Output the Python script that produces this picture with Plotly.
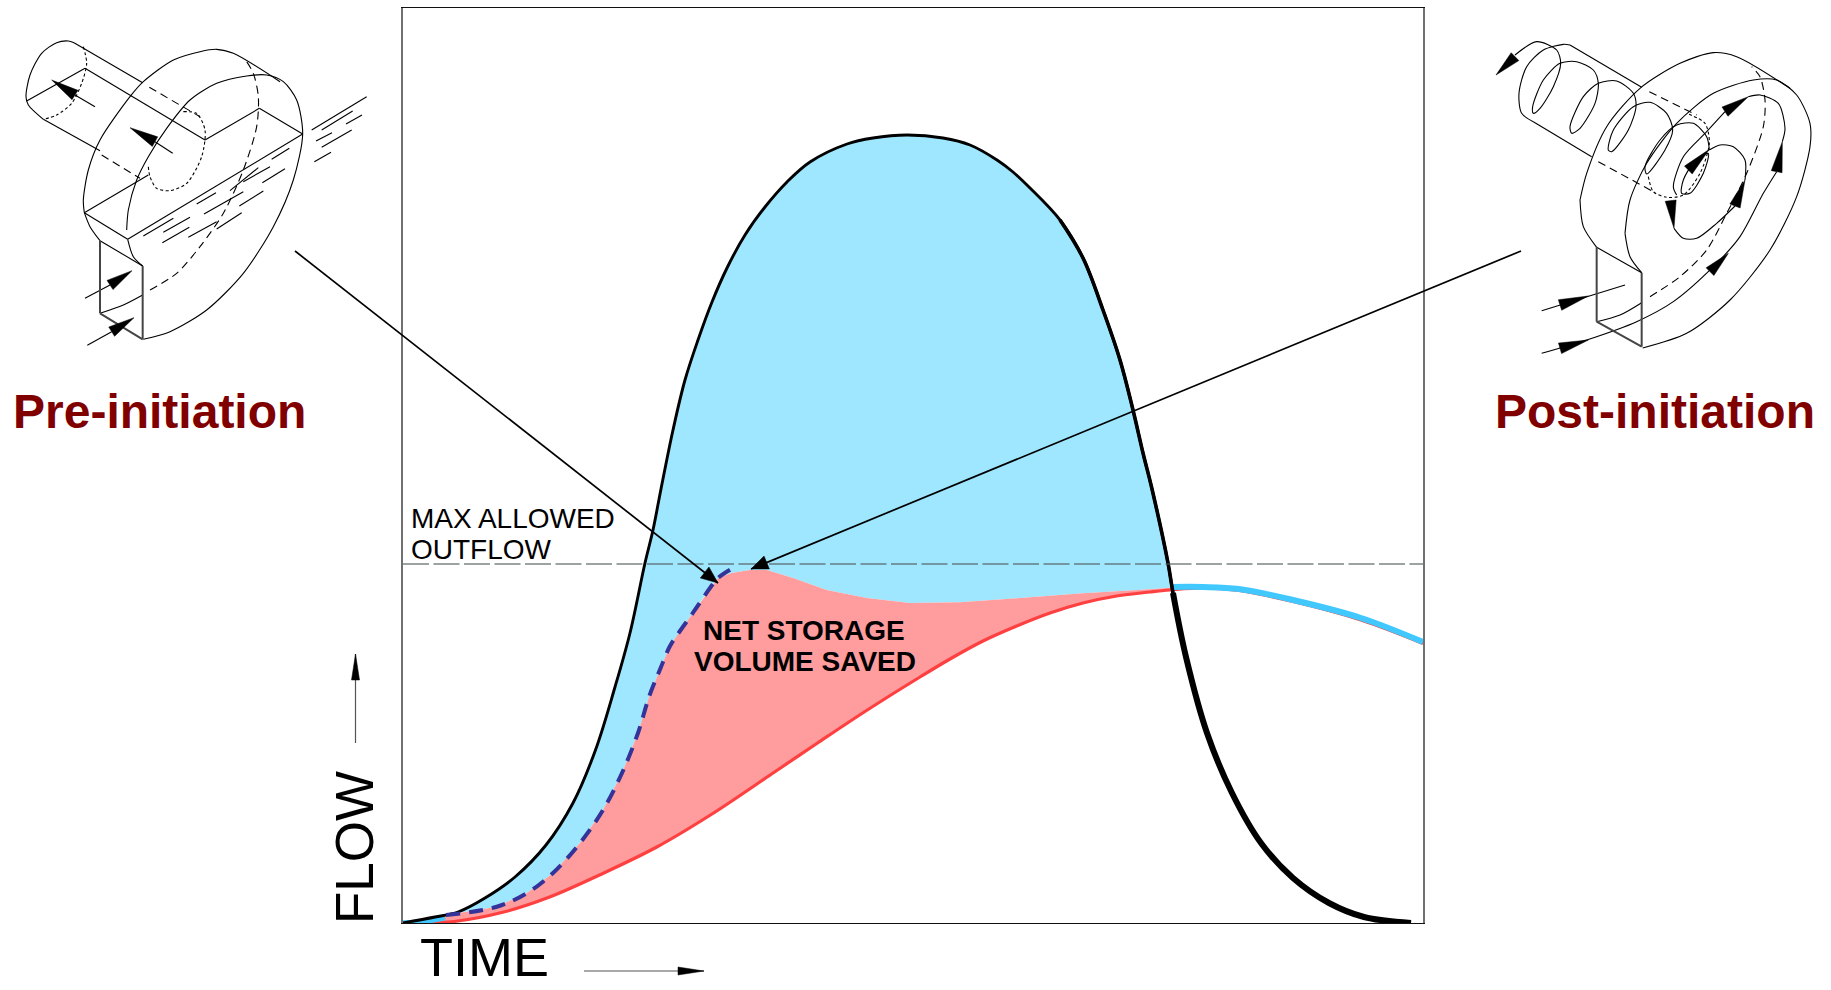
import numpy as np
import plotly.graph_objects as go

# ---- chart values (time and flow) ----
inflow_time = [0,32,55,82,112,143,170,192.5,212,227,242,250,258,270,282,295,309,324,342,362,384,407,444,470,504,540,567,594,610,627,657,680,700,717,730,740,749,765,770,783,804,829,858,890,926,961,1008]
inflow_flow = [0,6,11,25,46,78,120,173,236,290,360,393,434,493,543,583,621,655,688,716,741,761,779,785,788,785,778,763,751,735,703,665,613,563,513,470,434,360,330,266,190,130,80,45,20,6,0]

attenuated_time = [0,43,93,124,150,177,200,219,235,246,257.6,267,277,287,296,307,315,328.7,347,363.7,390,423.7,463.7,507,557,613.7,680,747,767]
attenuated_flow = [0,8,16,30,50,80,113,150,190,226,255,277,292,306,319,335,345,350,353,353,345,333,325,320,320.7,324.7,329.7,333.7,335.3]

vortex_time = [43,93,124,150,177,200,219,235,246,257.6,267,277,287,296,307,315,330]
vortex_flow = [8,16,30,50,80,113,150,190,226,255,277,292,306,319,335,345,355]

outflow_time = [0,32,51,100.7,146.6,196.4,253.8,307.4,368.6,414.5,464.3,517,547,580,613.7,647,680,713.7,747,767,800,836,890,958,1020]
outflow_flow = [0,0.5,1.5,11,26,48,76,108,149,180,213,246,264,282,297,310,320,327,331,333,335,332.5,321.5,303,279.5]

late_time = [768,800,836,890,958,1020]
late_flow = [336,336,334,323,305,281]
early_time = [-3,20,42]
early_flow = [0,1,5]

max_outflow = 359
time_range = [0, 1020]
flow_range = [0, 915]

title_left = "Pre-initiation"
title_right = "Post-initiation"

# ---- illustration geometry (crop coordinates of each fan drawing) ----
LEFT_SOLID = [
 [(222,128),(205,123),(170,128),(125,160),(90,225),(78,290),(85,315),(130,358)],
 [(222,128),(428,248)], [(130,358),(300,452)],
 [(80,303),(255,205)], [(255,205),(615,420)], [(615,420),(778,325)], [(778,325),(908,402)],
 [(908,402),(383,718)], [(383,718),(253,638)], [(253,638),(445,525)],
 [(380,690),(385,630),(410,540),(445,470),(500,385),(570,300),(650,250),(740,228),(800,225),(850,245),(890,300),(908,402),(880,540),(820,680),(730,820),(620,930),(510,995),(430,1018)],
 [(253,638),(250,600),(265,510),(300,420),(390,290),(430,245),(520,180),(600,155),(650,148),(700,160),(840,245)],
 [(253,638),(270,680),(300,722)], [(383,718),(400,770),(428,798)], [(300,722),(428,798)],
 [(300,940),(370,915),(428,885)],
 [(285,320),(225,285)], [(518,460),(465,425)], [(255,895),(330,855)], [(262,1036),(335,995)],
 [(935,390),(1100,290)],[(965,390),(1058,333)],[(1038,372),(1086,345)],[(948,423),(996,398)],[(965,442),(1055,390)],[(943,485),(993,457)],
 [(430,708),(520,655)],[(490,697),(570,652)],[(590,612),(648,578)],[(690,572),(775,503)],[(815,478),(868,445)],
 [(487,728),(568,682)],[(612,642),(730,575)],[(730,545),(810,500)],[(787,548),(855,506)],
 [(565,712),(650,665)],[(718,618),(790,573)],[(650,687),(725,638)],
]
LEFT_DASHED = [
 [(448,262),(600,350)], [(305,465),(420,535)],
 [(450,870),(530,820),(600,740),(670,640),(730,510),(770,380),(775,290),(760,220),(740,185)],
]
LEFT_DOTTED = [
 [(250,140),(260,190),(245,250),(215,310),(170,345),(130,358)],
 [(550,335),(590,340),(615,390),(605,470),(560,550),(510,572),(470,565),(450,530),(445,500)],
]
LEFT_DOUBLE = [[(300,722),(300,940)],[(300,940),(428,1018)],[(428,1018),(428,798)]]
LEFT_HEADS = [((155,240),(225,285)),((390,383),(465,425)),((396,812),(330,855)),((402,953),(335,995))]

RIGHT_SOLID = [
 [(450,135),(430,133),(370,150),(320,200),(297,280),(305,340),(345,368)],
 [(450,135),(665,262)], [(345,368),(515,470)],
 [(285,165),(350,125),(410,150),(422,190),(400,260),(360,325),(340,340),(338,320),(370,240),(420,190),(470,185),(520,210),(535,250),(525,310),(480,385),(455,400),(450,380),(490,290),(535,250),(590,243),(640,280),(648,320),(625,390),(575,455),(565,450),(580,390),(640,320),(690,307),(740,340),(758,390),(735,450),(680,522),(675,500),(720,420),(770,375),(820,370),(860,410),(868,450)],
 [(480,600),(500,520),(560,380),(660,265),(780,190),(880,158),(950,170),(1110,265)],
 [(480,600),(490,680),(530,742)],
 [(615,700),(630,600),(680,490),(770,370),(880,280),(1000,240),(1070,240),(1130,285),(1170,370),(1170,440),(1130,590),(1050,750),(930,900),(800,1000),(668,1044)],
 [(615,700),(630,770),(665,818)], [(530,742),(665,818)],
 [(530,965),(600,945),(665,908)],
 [(365,1060),(500,1020),(650,965),(760,905),(880,800),(960,710),(1030,580),(1070,515)],
 [(1087,425),(1095,385),(1075,310),(1020,285),(985,290)],
 [(915,335),(860,395),(790,470),(760,560),(770,585)],
 [(762,685),(790,715),(830,715),(890,670),(945,618)],
 [(975,540),(975,480),(940,440),(900,435),(868,450)],
 [(865,460),(850,520),(810,580),(785,580),(790,540),(820,490),(865,460)],
 [(365,932),(615,855)],
]
RIGHT_DASHED = [
 [(688,275),(830,345)], [(535,485),(700,575)],
 [(690,890),(780,830),(860,750),(920,640),(980,520),(1030,380),(1035,300),(1020,230),(995,200)],
]
RIGHT_DOTTED = [[(685,530),(700,575),(740,592),(790,585),(840,520),(868,430),(855,370),(800,340)]]
RIGHT_DOUBLE = [[(530,742),(530,965)],[(530,965),(665,1040)],[(665,1040),(665,818)]]
RIGHT_HEADS = [((228,225),(285,170)),((925,760),(870,815)),((1087,425),(1070,515)),((985,290),(915,335)),
               ((762,685),(752,602)),((975,540),(945,618)),((868,448),(805,510)),((505,888),(420,915)),((505,1020),(420,1045))]

# callout arrows and axis arrows: (tail, tip) in page pixels
CALLOUTS = [((295,251),(718,583)),((1521,251),(751,569))]
AXIS_ARROWS = [((355.5,743),(355.5,654)),((584,971),(704,971))]

fig = go.Figure()
SK = dict(hoverinfo="skip", showlegend=False)

# main chart
up = inflow_time.index(765) + 1
fig.add_trace(go.Scatter(x=inflow_time[:up]+attenuated_time[::-1], y=inflow_flow[:up]+attenuated_flow[::-1],
    fill="toself", fillcolor="#9FE7FF", mode="lines", line=dict(width=0), **SK))
fig.add_trace(go.Scatter(x=attenuated_time+outflow_time[:20][::-1], y=attenuated_flow+outflow_flow[:20][::-1],
    fill="toself", fillcolor="#FF9C9E", mode="lines", line=dict(width=0), **SK))
fig.add_trace(go.Scatter(x=outflow_time, y=outflow_flow, mode="lines", line=dict(color="#FF4040", width=3.2, shape="spline"), cliponaxis=False, **SK))
fig.add_trace(go.Scatter(x=early_time, y=early_flow, mode="lines", line=dict(color="#40C8FF", width=5), cliponaxis=False, **SK))
fig.add_trace(go.Scatter(x=late_time, y=late_flow, mode="lines", line=dict(color="#40C8FF", width=6, shape="spline"), cliponaxis=False, **SK))
mid = inflow_time.index(657)
low = inflow_time.index(770)
for a, w in [(0, 2.9), (mid, 3.6), (low, 6.0)]:
    fig.add_trace(go.Scatter(x=inflow_time[a:], y=inflow_flow[a:], mode="lines",
        line=dict(color="black", width=w, shape="spline"), cliponaxis=False, **SK))
fig.add_trace(go.Scatter(x=vortex_time, y=vortex_flow, mode="lines",
    line=dict(color="#333399", width=4, dash="14px,9px", shape="spline"), cliponaxis=False, **SK))
fig.add_trace(go.Scatter(x=time_range, y=[max_outflow, max_outflow], mode="lines",
    line=dict(color="rgba(80,90,90,0.75)", width=1.6, dash="26px,4.5px"), **SK))

# overlay drawings in page pixels
def page(group, ox):
    xs, ys = [], []
    for path in group:
        xs += [ox + p[0]/3 for p in path] + [None]
        ys += [p[1]/3 for p in path] + [None]
    return xs, ys

def strokes(group, ox, color, width, dash=None):
    xs, ys = page(group, ox)
    fig.add_trace(go.Scatter(x=xs, y=ys, xaxis="x2", yaxis="y2", mode="lines",
        line=dict(color=color, width=width, dash=dash, shape="spline", smoothing=0.8), **SK))

def heads(pairs, width):
    xs, ys = [], []
    for tip, base in pairs:
        t, b = np.array(tip, float), np.array(base, float)
        d = (t-b)/np.hypot(*(t-b))
        n = np.array([-d[1], d[0]])*width/2
        xs += [t[0], b[0]+n[0], b[0]-n[0], t[0], None]
        ys += [t[1], b[1]+n[1], b[1]-n[1], t[1], None]
    fig.add_trace(go.Scatter(x=xs, y=ys, xaxis="x2", yaxis="y2", mode="lines", fill="toself",
        fillcolor="black", line=dict(color="black", width=0.5), **SK))

for solid, dashed, dotted, double, hd, ox in [
    (LEFT_SOLID, LEFT_DASHED, LEFT_DOTTED, LEFT_DOUBLE, LEFT_HEADS, 0),
    (RIGHT_SOLID, RIGHT_DASHED, RIGHT_DOTTED, RIGHT_DOUBLE, RIGHT_HEADS, 1420)]:
    strokes(solid, ox, "#000000", 1.1)
    strokes(dashed, ox, "#000000", 1.1, "8px,5px")
    strokes(dotted, ox, "#000000", 1.1, "3px,2.5px")
    strokes(double, ox, "#444444", 2)
    heads([((ox + t[0]/3, t[1]/3), (ox + b[0]/3, b[1]/3)) for t, b in hd], 11)

for (tail, tip) in CALLOUTS:
    fig.add_trace(go.Scatter(x=[tail[0], tip[0]], y=[tail[1], tip[1]], xaxis="x2", yaxis="y2", mode="lines",
        line=dict(color="black", width=1.7), **SK))
    t, b = np.array(tip, float), np.array(tail, float)
    heads([(tip, tuple(t + (b-t)/np.hypot(*(b-t))*17))], 14)
for (tail, tip) in AXIS_ARROWS:
    fig.add_trace(go.Scatter(x=[tail[0], tip[0]], y=[tail[1], tip[1]], xaxis="x2", yaxis="y2", mode="lines",
        line=dict(color="#555555", width=1.2), **SK))
    t, b = np.array(tip, float), np.array(tail, float)
    heads([(tip, tuple(t + (b-t)/np.hypot(*(b-t))*26))], 8)

def label(text, x, y, size, color="black", bold=False, angle=0, xanchor="left", yanchor="middle"):
    return dict(text=("<b>%s</b>" % text) if bold else text, xref="x2", yref="y2", x=x, y=y, showarrow=False,
                xanchor=xanchor, yanchor=yanchor, textangle=angle,
                font=dict(family="Liberation Sans", size=size, color=color))

fig.update_layout(
    width=1831, height=990, autosize=False, margin=dict(l=0, r=0, t=0, b=0),
    paper_bgcolor="white", plot_bgcolor="rgba(0,0,0,0)", showlegend=False,
    xaxis=dict(domain=[403/1831, 1423/1831], range=time_range, showgrid=False, zeroline=False,
               showticklabels=False, ticks="", showline=True, linecolor="#111111", linewidth=1.4, mirror=True),
    yaxis=dict(domain=[(990-923)/990, (990-8)/990], range=flow_range, showgrid=False, zeroline=False,
               showticklabels=False, ticks="", showline=True, linecolor="#707070", linewidth=1.6, mirror=True),
    xaxis2=dict(domain=[0, 1], range=[0, 1831], visible=False, anchor="y2"),
    yaxis2=dict(domain=[0, 1], range=[990, 0], visible=False, anchor="x2"),
    annotations=[
        label(title_left, 11, 411, 48, "#800000", True),
        label(title_right, 1493, 411, 48, "#800000", True),
        label("MAX ALLOWED", 409, 518, 28),
        label("OUTFLOW", 409, 549, 28),
        label("NET STORAGE", 804, 630, 28, bold=True, xanchor="center"),
        label("VOLUME SAVED", 805, 661, 28, bold=True, xanchor="center"),
        label("FLOW", 354, 848, 53, angle=-90, xanchor="center"),
        label("TIME", 484, 989, 54, xanchor="center", yanchor="bottom"),
    ],
)
fig.write_html("out.html", post_script="document.body.style.margin='0';document.body.style.overflow='hidden';",
               config=dict(displayModeBar=False))
